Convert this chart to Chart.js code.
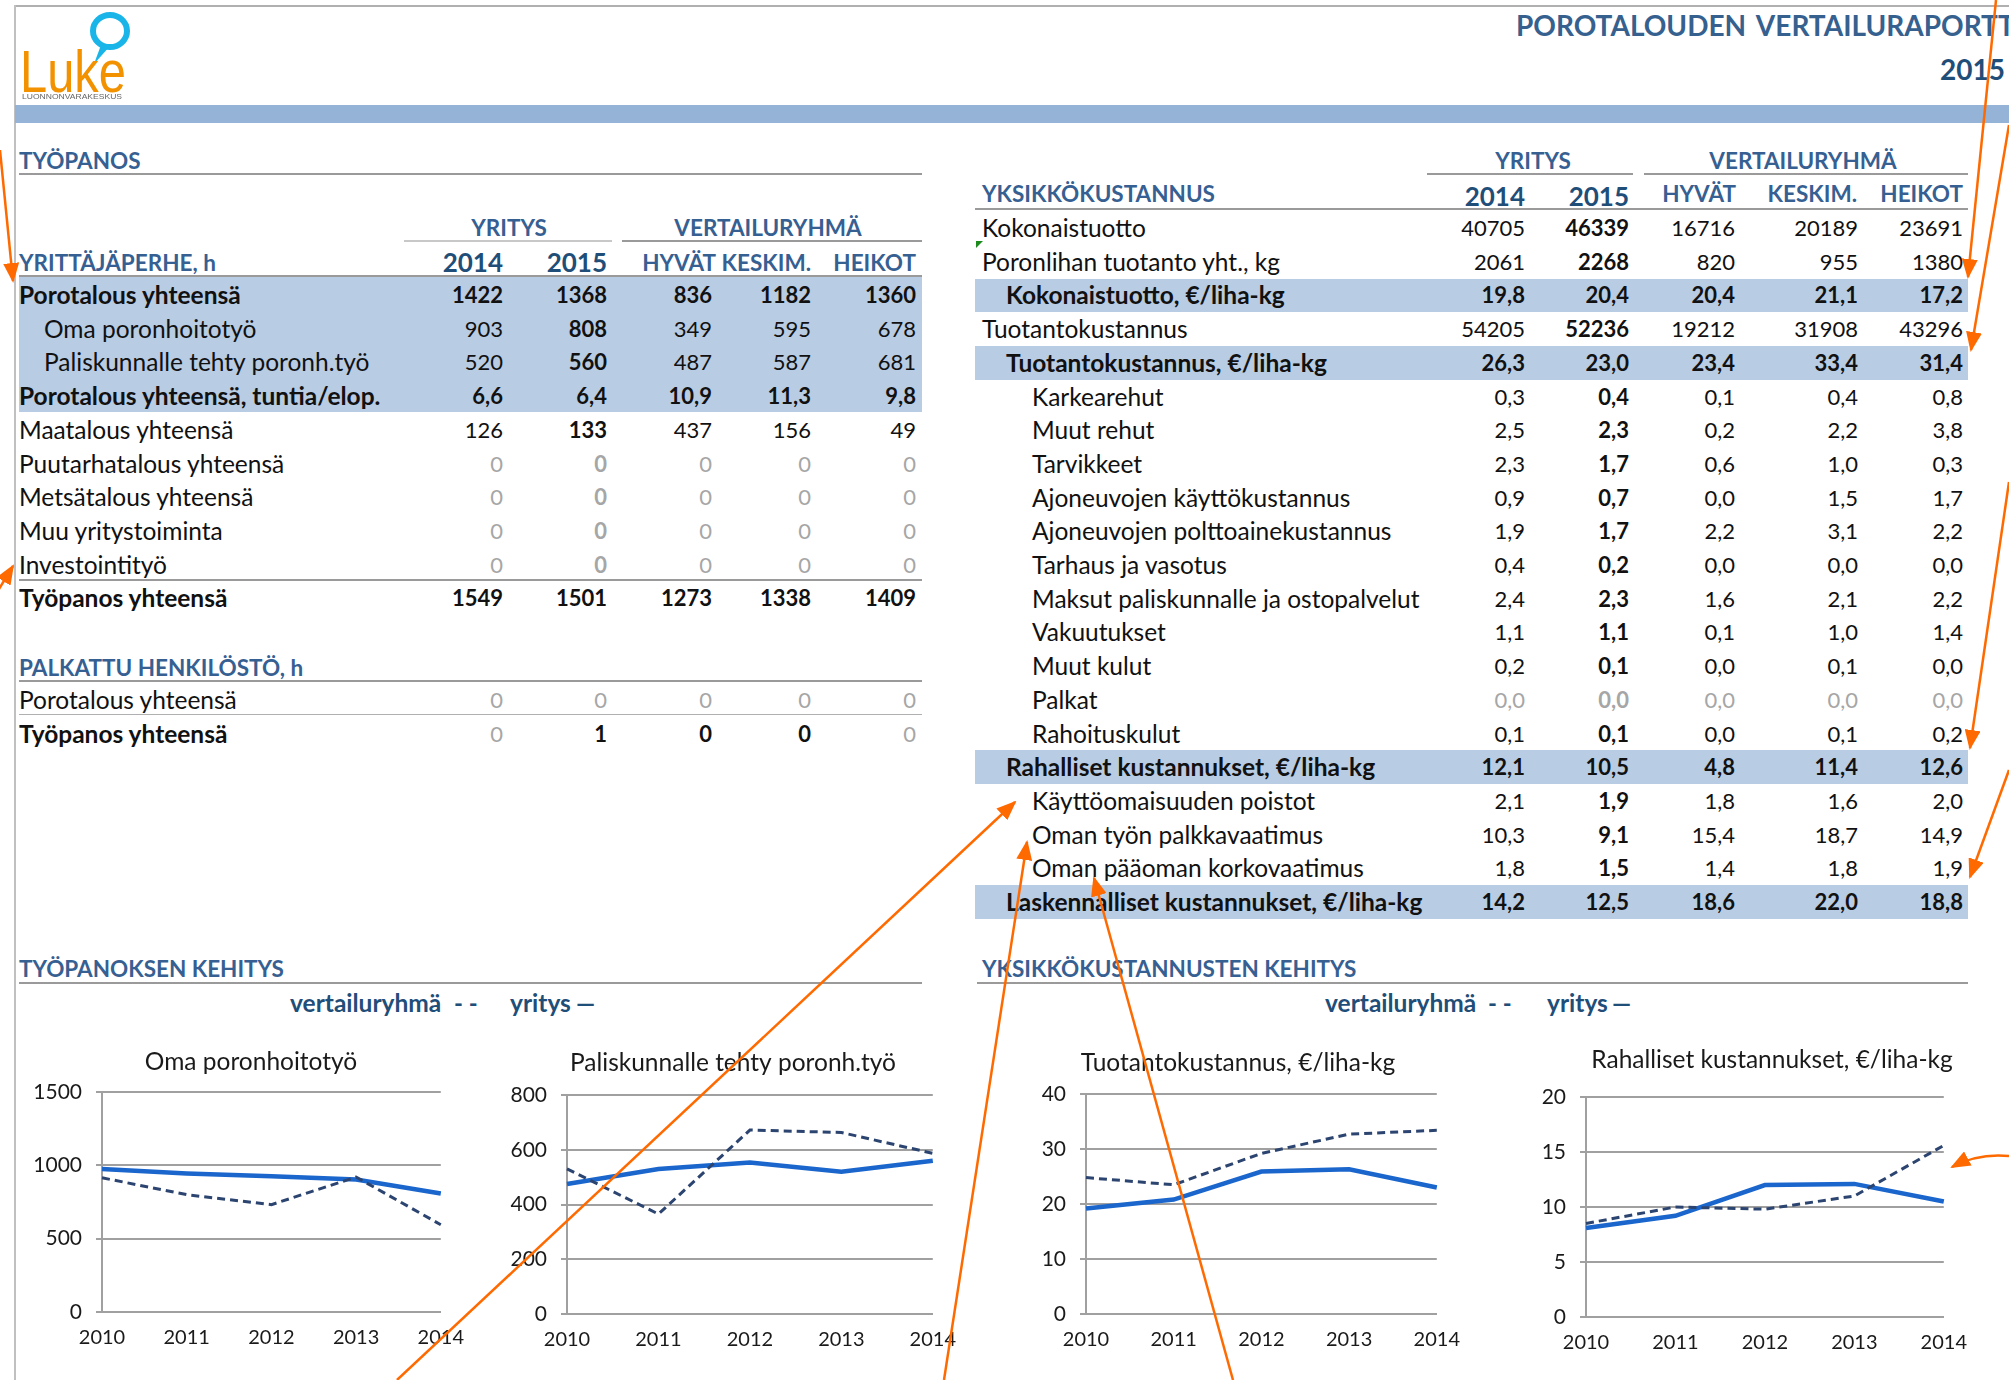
<!DOCTYPE html>
<html>
<head>
<meta charset="utf-8">
<script src="https://cdn.jsdelivr.net/npm/chart.js@4.4.1/dist/chart.umd.min.js"></script>
<style>
  body { margin: 0; width: 2009px; height: 1380px; overflow: hidden; background: #fff; position: relative; font-family: Lato, 'Open Sans', sans-serif; }
  .t { position: absolute; white-space: nowrap; line-height: 1.2; }
  .ln { position: absolute; }
  canvas { position: absolute; }
  #arrows { position: absolute; left: 0; top: 0; }
</style>
</head>
<body>
<script>
// ---------------- data ----------------
const years = ['2010', '2011', '2012', '2013', '2014'];

const omaYritys = [975, 945, 925, 903, 808];
const omaVertailu = [915, 800, 732, 920, 595];
const palisYritys = [475, 530, 553, 520, 560];
const palisVertailu = [530, 365, 672, 663, 587];
const tuotYritys = [19.2, 20.8, 25.9, 26.3, 23.0];
const tuotVertailu = [24.8, 23.5, 29.2, 32.7, 33.4];
const rahaYritys = [8.1, 9.2, 12.0, 12.1, 10.5];
const rahaVertailu = [8.5, 10.0, 9.8, 11.0, 15.6];

// työpanos table
const tyoLabels = ['Porotalous yhteensä', 'Oma poronhoitotyö', 'Paliskunnalle tehty poronh.työ',
  'Porotalous yhteensä, tuntia/elop.', 'Maatalous yhteensä', 'Puutarhatalous yhteensä',
  'Metsätalous yhteensä', 'Muu yritystoiminta', 'Investointityö', 'Työpanos yhteensä'];
const tyo2014 = ['1422', '903', '520', '6,6', '126', '0', '0', '0', '0', '1549'];
const tyo2015 = ['1368', '808', '560', '6,4', '133', '0', '0', '0', '0', '1501'];
const tyoHyvat = ['836', '349', '487', '10,9', '437', '0', '0', '0', '0', '1273'];
const tyoKeskim = ['1182', '595', '587', '11,3', '156', '0', '0', '0', '0', '1338'];
const tyoHeikot = ['1360', '678', '681', '9,8', '49', '0', '0', '0', '0', '1409'];

const palkLabels = ['Porotalous yhteensä', 'Työpanos yhteensä'];
const palk2014 = ['0', '0'];
const palk2015 = ['0', '1'];
const palkHyvat = ['0', '0'];
const palkKeskim = ['0', '0'];
const palkHeikot = ['0', '0'];

// yksikkökustannus table
const ykLabels = ['Kokonaistuotto', 'Poronlihan tuotanto yht., kg', 'Kokonaistuotto, €/liha-kg',
  'Tuotantokustannus', 'Tuotantokustannus, €/liha-kg', 'Karkearehut', 'Muut rehut', 'Tarvikkeet',
  'Ajoneuvojen käyttökustannus', 'Ajoneuvojen polttoainekustannus', 'Tarhaus ja vasotus',
  'Maksut paliskunnalle ja ostopalvelut', 'Vakuutukset', 'Muut kulut', 'Palkat', 'Rahoituskulut',
  'Rahalliset kustannukset, €/liha-kg', 'Käyttöomaisuuden poistot', 'Oman työn palkkavaatimus',
  'Oman pääoman korkovaatimus', 'Laskennalliset kustannukset, €/liha-kg'];
const yk2014 = ['40705', '2061', '19,8', '54205', '26,3', '0,3', '2,5', '2,3', '0,9', '1,9', '0,4',
  '2,4', '1,1', '0,2', '0,0', '0,1', '12,1', '2,1', '10,3', '1,8', '14,2'];
const yk2015 = ['46339', '2268', '20,4', '52236', '23,0', '0,4', '2,3', '1,7', '0,7', '1,7', '0,2',
  '2,3', '1,1', '0,1', '0,0', '0,1', '10,5', '1,9', '9,1', '1,5', '12,5'];
const ykHyvat = ['16716', '820', '20,4', '19212', '23,4', '0,1', '0,2', '0,6', '0,0', '2,2', '0,0',
  '1,6', '0,1', '0,0', '0,0', '0,0', '4,8', '1,8', '15,4', '1,4', '18,6'];
const ykKeskim = ['20189', '955', '21,1', '31908', '33,4', '0,4', '2,2', '1,0', '1,5', '3,1', '0,0',
  '2,1', '1,0', '0,1', '0,0', '0,1', '11,4', '1,6', '18,7', '1,8', '22,0'];
const ykHeikot = ['23691', '1380', '17,2', '43296', '31,4', '0,8', '3,8', '0,3', '1,7', '2,2', '0,0',
  '2,2', '1,4', '0,0', '0,0', '0,2', '12,6', '2,0', '14,9', '1,9', '18,8'];

// ---------------- helpers ----------------
const W = 2009;
const BLUE_HEAD = '#376092';
const DARK_HEAD = '#1f4e79';
const GREY_NUM = '#a6a6a6';
const SHADE = '#b8cce4';
const RULE = '#9a9a9a';
const LABEL_SIZE = 24.5;
const NUM_SIZE = 22;
const HEAD_SIZE = 22.5;

function put(text, x, y, o = {}) {
  const d = document.createElement('div');
  d.className = 't';
  d.textContent = text;
  d.style.fontSize = (o.size || NUM_SIZE) + 'px';
  d.style.fontWeight = o.bold ? '700' : '400';
  d.style.color = o.color || '#111';
  if (o.wordSpacing) d.style.wordSpacing = o.wordSpacing + 'px';
  d.style.top = y + 'px';
  let tx = '0';
  if (o.align === 'right') d.style.right = (W - x) + 'px';
  else if (o.align === 'center') { d.style.left = x + 'px'; tx = '-50%'; }
  else d.style.left = x + 'px';
  d.style.transform = `translate(${tx}, -50%)`;
  document.body.appendChild(d);
}

function rect(x, y, w, h, color) {
  const d = document.createElement('div');
  d.className = 'ln';
  Object.assign(d.style, { left: x + 'px', top: y + 'px', width: w + 'px', height: h + 'px', background: color });
  document.body.appendChild(d);
}

function head(text, x, y, align) {
  put(text, x, y, { size: HEAD_SIZE, bold: true, color: BLUE_HEAD, align });
}

// ---------------- page frame ----------------
rect(15, 5, W - 15, 2, '#b0b0b0');
rect(14, 5, 2, 1380, '#c0c0c0');
rect(15, 105, W - 15, 18, '#95b3d7');

put('POROTALOUDEN VERTAILURAPORTTI', 1516, 26, { size: 28, bold: true, color: '#36618f', wordSpacing: 4 });
put('2015', 2005, 70, { size: 28, bold: true, color: DARK_HEAD, align: 'right' });

// ---------------- työpanos table ----------------
const tyoCols = [503, 607, 712, 811, 916];
const tyoStyle = ['bold', 'sub', 'sub', 'bold', 'row', 'zero', 'zero', 'zero', 'zero', 'bold'];

head('TYÖPANOS', 19, 160);
rect(19, 173, 903, 2, RULE);
head('YRITYS', 509, 227, 'center');
rect(404, 240, 208, 2, '#c8c8c8');
head('VERTAILURYHMÄ', 768, 227, 'center');
rect(622, 240, 300, 2, RULE);
head('YRITTÄJÄPERHE, h', 19, 262);
put('2014', tyoCols[0], 263, { size: 26, bold: true, color: DARK_HEAD, align: 'right' });
put('2015', tyoCols[1], 263, { size: 26, bold: true, color: DARK_HEAD, align: 'right' });
head('HYVÄT', 716, 262, 'right');
head('KESKIM.', 811, 262, 'right');
head('HEIKOT', 916, 262, 'right');
rect(19, 275, 903, 2, RULE);
rect(19, 277, 903, 135, SHADE);
rect(19, 579, 903, 2, RULE);

tyoLabels.forEach((lab, i) => {
  const y = 295 + i * 33.7;
  const st = tyoStyle[i];
  const bold = st === 'bold';
  put(lab, st === 'sub' ? 44 : 19, y, { size: LABEL_SIZE, bold });
  const vals = [tyo2014[i], tyo2015[i], tyoHyvat[i], tyoKeskim[i], tyoHeikot[i]];
  vals.forEach((v, c) => {
    put(v, tyoCols[c], y, {
      align: 'right',
      bold: bold || c === 1,
      color: st === 'zero' ? GREY_NUM : '#111'
    });
  });
});

head('PALKATTU HENKILÖSTÖ, h', 19, 667);
rect(19, 680, 903, 2, RULE);
rect(19, 714, 903, 1, '#b0b0b0');
palkLabels.forEach((lab, i) => {
  const y = 700 + i * 33.7;
  put(lab, 19, y, { size: LABEL_SIZE, bold: i === 1 });
  const vals = [palk2014[i], palk2015[i], palkHyvat[i], palkKeskim[i], palkHeikot[i]];
  vals.forEach((v, c) => {
    const dark = i === 1 && (c === 1 || c === 2 || c === 3);
    put(v, tyoCols[c], y, { align: 'right', bold: dark, color: dark ? '#111' : GREY_NUM });
  });
});

// ---------------- yksikkökustannus table ----------------
const ykCols = [1525, 1629, 1735, 1858, 1963];
const ykStyle = ['row', 'row', 'shade', 'row', 'shade', 'sub', 'sub', 'sub', 'sub', 'sub', 'sub', 'sub',
  'sub', 'sub', 'grey', 'sub', 'shade', 'sub', 'sub', 'sub', 'shade'];

head('YRITYS', 1533, 160, 'center');
rect(1427, 173, 206, 2, RULE);
head('VERTAILURYHMÄ', 1803, 160, 'center');
rect(1644, 173, 324, 2, RULE);
head('YKSIKKÖKUSTANNUS', 982, 193);
put('2014', ykCols[0], 197, { size: 26, bold: true, color: DARK_HEAD, align: 'right' });
put('2015', ykCols[1], 197, { size: 26, bold: true, color: DARK_HEAD, align: 'right' });
head('HYVÄT', 1736, 193, 'right');
head('KESKIM.', 1857, 193, 'right');
head('HEIKOT', 1963, 193, 'right');
rect(975, 208, 993, 2, RULE);

ykLabels.forEach((lab, i) => {
  const y = 228 + i * 33.7;
  const st = ykStyle[i];
  if (st === 'shade') rect(975, y - 16.8, 993, 33.6, SHADE);
  const x = st === 'shade' ? 1006 : (st === 'row' ? 982 : 1032);
  put(lab, x, y, { size: LABEL_SIZE, bold: st === 'shade' });
  const vals = [yk2014[i], yk2015[i], ykHyvat[i], ykKeskim[i], ykHeikot[i]];
  vals.forEach((v, c) => {
    put(v, ykCols[c], y, {
      align: 'right',
      bold: st === 'shade' || c === 1,
      color: st === 'grey' ? GREY_NUM : '#111'
    });
  });
});

// ---------------- kehitys headers + legend text ----------------
head('TYÖPANOKSEN KEHITYS', 19, 968);
rect(19, 982, 903, 2, RULE);
put('vertailuryhmä', 290, 1003, { size: 24.5, bold: true, color: DARK_HEAD });
put('- -', 454, 1003, { size: 24, bold: true, color: DARK_HEAD });
put('yritys', 510, 1003, { size: 24.5, bold: true, color: DARK_HEAD });
put('—', 576, 1003, { size: 24, bold: true, color: DARK_HEAD });

head('YKSIKKÖKUSTANNUSTEN KEHITYS', 982, 968);
rect(977, 982, 991, 2, RULE);
put('vertailuryhmä', 1325, 1003, { size: 24.5, bold: true, color: DARK_HEAD });
put('- -', 1488, 1003, { size: 24, bold: true, color: DARK_HEAD });
put('yritys', 1547, 1003, { size: 24.5, bold: true, color: DARK_HEAD });
put('—', 1612, 1003, { size: 24, bold: true, color: DARK_HEAD });

// ---------------- charts ----------------
// y axis box is wide because chart.js clips tick labels to the scale box
const AXIS_W = 84, PAD_L = 8, PAD_R = 32, XAX_H = 48, TITLE_SIZE = 24.5;

// draws the chart heading at a fixed spot above the plot
const chartHeading = {
  id: 'chartHeading',
  afterDraw(chart, args, opts) {
    const ctx = chart.ctx;
    ctx.save();
    ctx.font = `${TITLE_SIZE}px Lato`;
    ctx.fillStyle = '#1a1a1a';
    ctx.textAlign = 'center';
    ctx.textBaseline = 'middle';
    ctx.fillText(opts.text, opts.x, opts.y);
    ctx.restore();
  },
};

function lineChart(title, yMax, step, yritys, vertailu, g) {
  const left = g.l - AXIS_W - PAD_L;
  const top = g.ty - 20;
  const width = g.r + PAD_R - left;
  const height = g.b + XAX_H - top;
  const cv = document.createElement('canvas');
  cv.width = width; cv.height = height;
  cv.style.left = left + 'px'; cv.style.top = top + 'px';
  cv.style.width = width + 'px'; cv.style.height = height + 'px';
  document.body.appendChild(cv);

  new Chart(cv.getContext('2d'), {
    type: 'line',
    data: {
      labels: years,
      datasets: [
        {
          label: 'vertailuryhmä',
          data: vertailu,
          borderColor: '#2c4470',
          borderWidth: 3,
          borderDash: [8, 5],
          pointRadius: 0,
          tension: 0,
          fill: false,
        },
        {
          label: 'yritys',
          data: yritys,
          borderColor: '#1a66cc',
          borderWidth: 4.5,
          pointRadius: 0,
          tension: 0,
          fill: false,
        },
      ],
    },
    plugins: [chartHeading],
    options: {
      responsive: false,
      animation: false,
      layout: { padding: { left: PAD_L, right: PAD_R, top: g.t - top, bottom: 0 } },
      plugins: {
        legend: { display: false },
        tooltip: { enabled: false },
        title: { display: false },
        chartHeading: { text: title, x: g.tx - left, y: g.ty - top },
      },
      scales: {
        x: {
          grid: { display: false, drawTicks: false },
          border: { display: true, color: '#a0a0a0', width: 2 },
          ticks: { color: '#1a1a1a', font: { family: 'Lato', size: 20 }, padding: 14, maxRotation: 0, autoSkip: false },
          afterFit(scale) { scale.height = XAX_H; },
        },
        y: {
          min: 0,
          max: yMax,
          grid: { color: '#a0a0a0', lineWidth: 2, drawTicks: true, tickLength: 6 },
          border: { display: true, color: '#a0a0a0', width: 2 },
          ticks: {
            stepSize: step,
            color: '#1a1a1a',
            font: { family: 'Lato', size: 21 },
            padding: 14,
            callback: (v) => String(v),
          },
          afterFit(scale) { scale.width = AXIS_W; },
        },
      },
    },
  });
}

lineChart('Oma poronhoitotyö', 1500, 500, omaYritys, omaVertailu,
  { l: 102, r: 446, t: 1092, b: 1312, tx: 251, ty: 1062 });
lineChart('Paliskunnalle tehty poronh.työ', 800, 200, palisYritys, palisVertailu,
  { l: 567, r: 938, t: 1095, b: 1314, tx: 733, ty: 1063 });
lineChart('Tuotantokustannus, €/liha-kg', 40, 10, tuotYritys, tuotVertailu,
  { l: 1086, r: 1442, t: 1094, b: 1314, tx: 1238, ty: 1063 });
lineChart('Rahalliset kustannukset, €/liha-kg', 20, 5, rahaYritys, rahaVertailu,
  { l: 1586, r: 1949, t: 1097, b: 1317, tx: 1772, ty: 1060 });

// ---------------- logo + annotation arrows ----------------
const NS = 'http://www.w3.org/2000/svg';
const svg = document.createElementNS(NS, 'svg');
svg.setAttribute('id', 'arrows');
svg.setAttribute('width', W);
svg.setAttribute('height', 1380);
svg.innerHTML = `
  <defs>
    <marker id="ah" markerUnits="userSpaceOnUse" markerWidth="20" markerHeight="16" refX="18" refY="8" orient="auto">
      <path d="M0,0 L20,8 L0,16 z" fill="#ff6a00"/>
    </marker>
  </defs>
  <ellipse cx="110" cy="31" rx="17" ry="16" fill="none" stroke="#19b5e8" stroke-width="6"/>
  <path d="M101,45 L94,64 L110,46" fill="#19b5e8"/>
  <text x="20" y="92" font-family="'Liberation Sans Narrow', 'Liberation Sans'" font-size="60" fill="#f39200" textLength="106" lengthAdjust="spacingAndGlyphs">Luke</text>
  <text x="22" y="99" font-family="'Liberation Sans Narrow', 'Liberation Sans'" font-size="8" fill="#666" textLength="100" lengthAdjust="spacingAndGlyphs">LUONNONVARAKESKUS</text>
  <path d="M976,241 L983,241 L976,248 z" fill="#1c8a1c"/>
  <g stroke="#ff6a00" stroke-width="2.5" fill="none" marker-end="url(#ah)">
    <line x1="0" y1="150" x2="13" y2="281"/>
    <line x1="-4" y1="594" x2="13" y2="566"/>
    <line x1="397" y1="1380" x2="1015" y2="802"/>
    <line x1="944" y1="1380" x2="1027" y2="842"/>
    <line x1="1233" y1="1380" x2="1094" y2="878"/>
    <line x1="1996" y1="0" x2="1968" y2="277"/>
    <line x1="2009" y1="125" x2="1971" y2="350"/>
    <line x1="2009" y1="482" x2="1970" y2="748"/>
    <line x1="2009" y1="770" x2="1970" y2="877"/>
    <path d="M2009,1156 Q1978,1153 1952,1167"/>
  </g>`;
document.body.appendChild(svg);
</script>
</body>
</html>
